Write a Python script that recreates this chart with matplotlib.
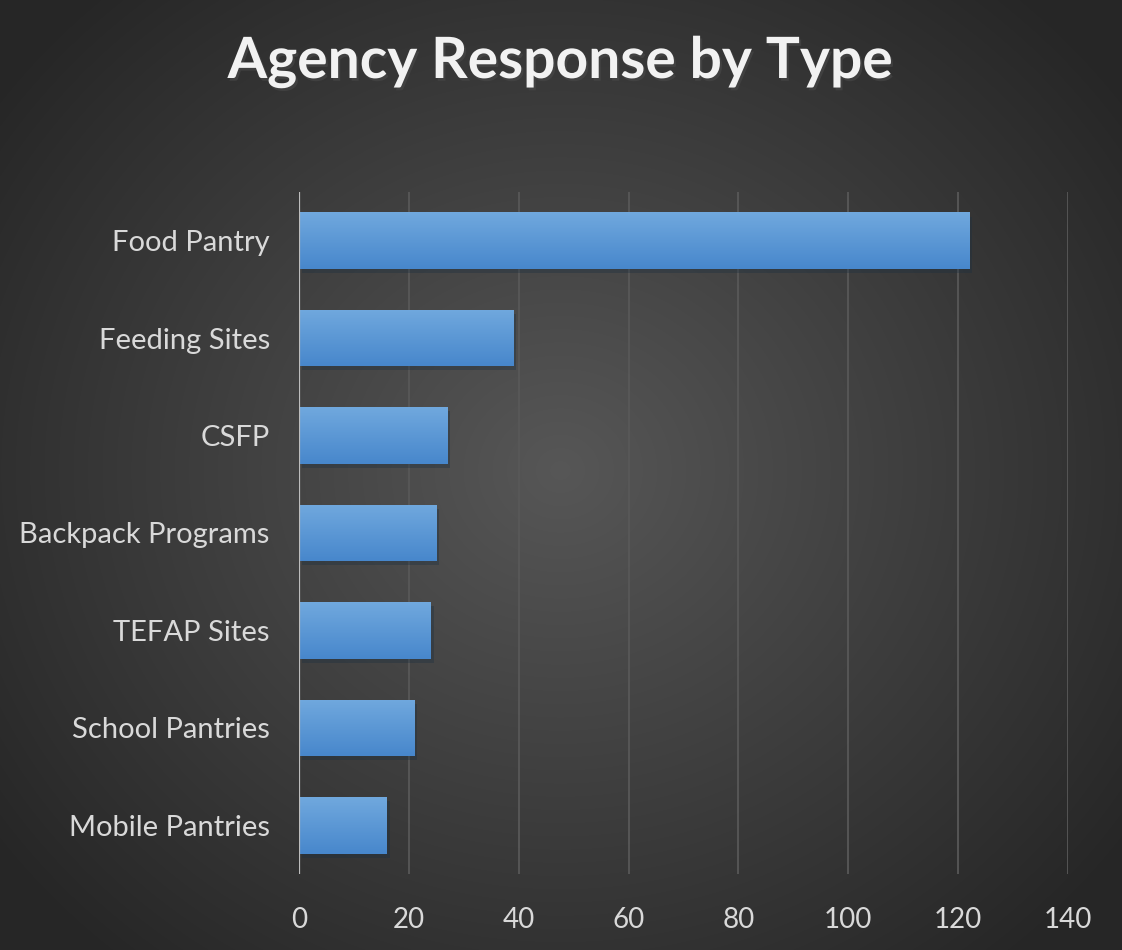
import numpy as np
import matplotlib
matplotlib.use('Agg')
import matplotlib.pyplot as plt
import matplotlib.patheffects as pe

# данные
categories = ['Food Pantry', 'Feeding Sites', 'CSFP', 'Backpack Programs',
              'TEFAP Sites', 'School Pantries', 'Mobile Pantries']
values = [122, 39, 27, 25, 24, 21, 16]
x_ticks = [0, 20, 40, 60, 80, 100, 120, 140]

plt.rcParams['font.family'] = ['Lato', 'DejaVu Sans']

fig = plt.figure(figsize=(11.22, 9.5), dpi=100)

# радиальный фон
bg = fig.add_axes([0, 0, 1, 1], zorder=-10)
yy, xx = np.mgrid[0:950, 0:1122]
r = np.sqrt(((xx - 560) / 700.0) ** 2 + ((yy - 470) / 640.0) ** 2)
shade = 0.34 - 0.19 * np.clip(r, 0, 1)
bg.imshow(np.dstack([shade] * 3), extent=[0, 1, 0, 1], aspect='auto')
bg.axis('off')

ax = fig.add_axes([0.2665, 0.08, 0.6854, 0.718])
ax.patch.set_alpha(0)

y = np.arange(len(categories))
bars = ax.barh(y, values, height=0.58, color='#5b9bd5', zorder=3,
               path_effects=[pe.SimplePatchShadow(offset=(2, -3), alpha=0.35), pe.Normal()])

# градиент на столбиках
grad = np.linspace(0, 1, 64).reshape(-1, 1)
top = np.array([0.44, 0.66, 0.87])
bottom = np.array([0.28, 0.53, 0.80])
cols = top + (bottom - top) * grad[..., None]
for b in bars:
    x0, y0 = b.get_x(), b.get_y()
    w, h = b.get_width(), b.get_height()
    im = ax.imshow(cols, extent=[x0, x0 + w, y0 + h, y0], aspect='auto', zorder=4,
                   interpolation='bilinear')
    im.set_clip_path(b)

ax.set_xlim(0, 140)
ax.set_ylim(len(categories) - 0.5, -0.5)
ax.set_xticks(x_ticks)
ax.set_yticks(y)
ax.set_yticklabels(categories)
ax.grid(axis='x', color='#585858', linewidth=1.3, zorder=0)
ax.axvline(0, color='#bdbdbd', linewidth=1.6, zorder=5)
for s in ax.spines.values():
    s.set_visible(False)
ax.tick_params(length=0, labelsize=21, colors='#d9d9d9')
ax.tick_params(axis='x', labelsize=20, pad=24)
ax.tick_params(axis='y', pad=21)

fig.text(0.5, 0.935, 'Agency Response by Type', ha='center', va='center',
         fontsize=41, fontweight='bold', color='#f2f2f2',
         path_effects=[pe.withSimplePatchShadow(offset=(1.5, -2), alpha=0.6)])

fig.savefig('out.png', dpi=100)
